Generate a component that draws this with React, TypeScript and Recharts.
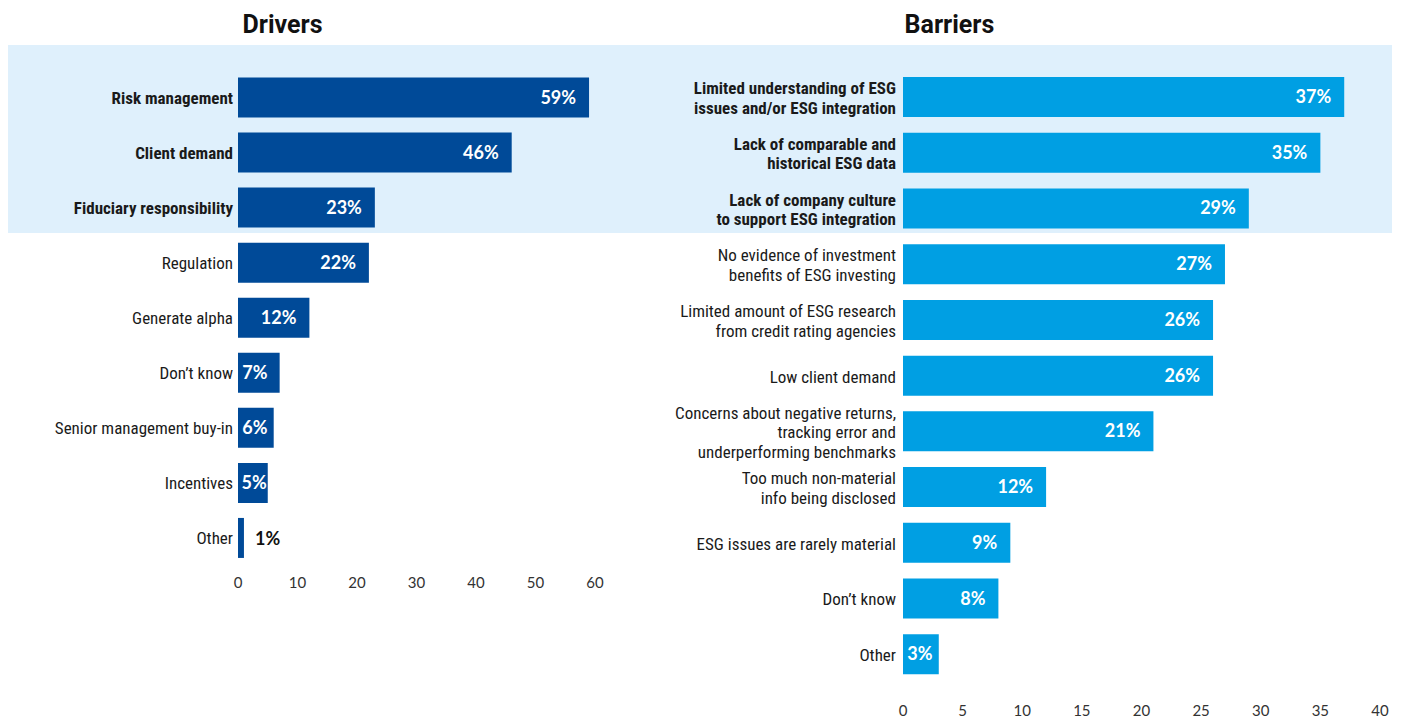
import React from 'react';
import { BarChart, Bar, XAxis, YAxis, LabelList } from 'recharts';

const DRIVER_LABELS = [
  'Risk management',
  'Client demand',
  'Fiduciary responsibility',
  'Regulation',
  'Generate alpha',
  'Don\u2019t know',
  'Senior management buy-in',
  'Incentives',
  'Other',
];
const DRIVER_VALUES = [59, 46, 23, 22, 12, 7, 6, 5, 1];
const DRIVER_TICKS = [0, 10, 20, 30, 40, 50, 60];

const BARRIER_LABELS = [
  'Limited understanding of ESG\nissues and/or ESG integration',
  'Lack of comparable and\nhistorical ESG data',
  'Lack of company culture\nto support ESG integration',
  'No evidence of investment\nbenefits of ESG investing',
  'Limited amount of ESG research\nfrom credit rating agencies',
  'Low client demand',
  'Concerns about negative returns,\ntracking error and\nunderperforming benchmarks',
  'Too much non-material\ninfo being disclosed',
  'ESG issues are rarely material',
  'Don\u2019t know',
  'Other',
];
const BARRIER_VALUES = [37, 35, 29, 27, 26, 26, 21, 12, 9, 8, 3];
const BARRIER_TICKS = [0, 5, 10, 15, 20, 25, 30, 35, 40];

// first rows are drawn bold and sit on the blue band
const HIGHLIGHTED = 3;

const LABEL_FONT = '"Liberation Sans Narrow", "Roboto Condensed", Roboto, sans-serif';
const VALUE_FONT = 'Lato, "Open Sans", sans-serif';

const driverData = DRIVER_LABELS.map((name, i) => ({ name, value: DRIVER_VALUES[i] }));
const barrierData = BARRIER_LABELS.map((name, i) => ({ name, value: BARRIER_VALUES[i] }));

function CategoryTick(props: any) {
  const { x, y, payload, index } = props;
  const lines = String(payload.value).split('\n');
  const lineHeight = 19.5;
  const startDy = -((lines.length - 1) * lineHeight) / 2;
  return (
    <text
      x={x}
      y={y + 1}
      textAnchor="end"
      fill="#1a1a1a"
      fontFamily={LABEL_FONT}
      fontSize={17}
      fontWeight={index < HIGHLIGHTED ? 700 : 400}
    >
      {lines.map((line, i) => (
        <tspan key={i} x={x} dy={i === 0 ? startDy : lineHeight} dominantBaseline="central">
          {line}
        </tspan>
      ))}
    </text>
  );
}

function ValueLabel(props: any) {
  const { x, y, width, height, value } = props;
  const text = `${value}%`;
  const cy = y + height / 2;
  if (width < 15) {
    return (
      <text x={x + width + 11} y={cy} dominantBaseline="central" fill="#111"
        fontFamily={VALUE_FONT} fontWeight={700} fontSize={18}>
        {text}
      </text>
    );
  }
  const textW = (text.length - 1) * 10.5 + 16;
  const right = Math.min(x + width - 1, Math.max(x + width - 13, x + 3 + textW));
  return (
    <text x={right} y={cy - 1} textAnchor="end" dominantBaseline="central" fill="#fff"
      fontFamily={VALUE_FONT} fontWeight={700} fontSize={18}>
      {text}
    </text>
  );
}

const axisTick = { fill: '#333', fontSize: 15, fontFamily: VALUE_FONT };

export default function App() {
  return (
    <div style={{ position: 'absolute', left: 0, top: 0, width: 1402, height: 720, background: '#fff', overflow: 'hidden' }}>
      <div style={{ position: 'absolute', left: 8, top: 45, width: 1384, height: 188, background: '#dff0fc' }} />

      <div style={{ position: 'absolute', left: 0, top: 8, width: 565, textAlign: 'center', fontFamily: 'Roboto, sans-serif', fontWeight: 700, fontSize: 25, color: '#111', lineHeight: '34px' }}>
        Drivers
      </div>
      <div style={{ position: 'absolute', left: 497, top: 8, width: 905, textAlign: 'center', fontFamily: 'Roboto, sans-serif', fontWeight: 700, fontSize: 25, color: '#111', lineHeight: '34px' }}>
        Barriers
      </div>

      <div style={{ position: 'absolute', left: 0, top: 0 }}>
        <BarChart width={620} height={600} data={driverData} layout="vertical"
          margin={{ top: 69.5, right: 25, bottom: 5, left: 0 }} barSize={40}>
          <XAxis type="number" domain={[0, 60]} ticks={DRIVER_TICKS} axisLine={false} tickLine={false}
            tickSize={0} tickMargin={12} height={30} tick={axisTick} interval={0} />
          <YAxis type="category" dataKey="name" width={238} axisLine={false} tickLine={false}
            tickSize={0} tickMargin={5} tick={<CategoryTick />} interval={0} />
          <Bar dataKey="value" fill="#004a98" isAnimationActive={false}>
            <LabelList dataKey="value" content={<ValueLabel />} />
          </Bar>
        </BarChart>
      </div>

      <div style={{ position: 'absolute', left: 620, top: 0 }}>
        <BarChart width={782} height={720} data={barrierData} layout="vertical"
          margin={{ top: 69, right: 22, bottom: 8, left: 0 }} barSize={40}>
          <XAxis type="number" domain={[0, 40]} ticks={BARRIER_TICKS} axisLine={false} tickLine={false}
            tickSize={0} tickMargin={23} height={30} tick={axisTick} interval={0} />
          <YAxis type="category" dataKey="name" width={283} axisLine={false} tickLine={false}
            tickSize={0} tickMargin={7} tick={<CategoryTick />} interval={0} />
          <Bar dataKey="value" fill="#009fe3" isAnimationActive={false}>
            <LabelList dataKey="value" content={<ValueLabel />} />
          </Bar>
        </BarChart>
      </div>
    </div>
  );
}
